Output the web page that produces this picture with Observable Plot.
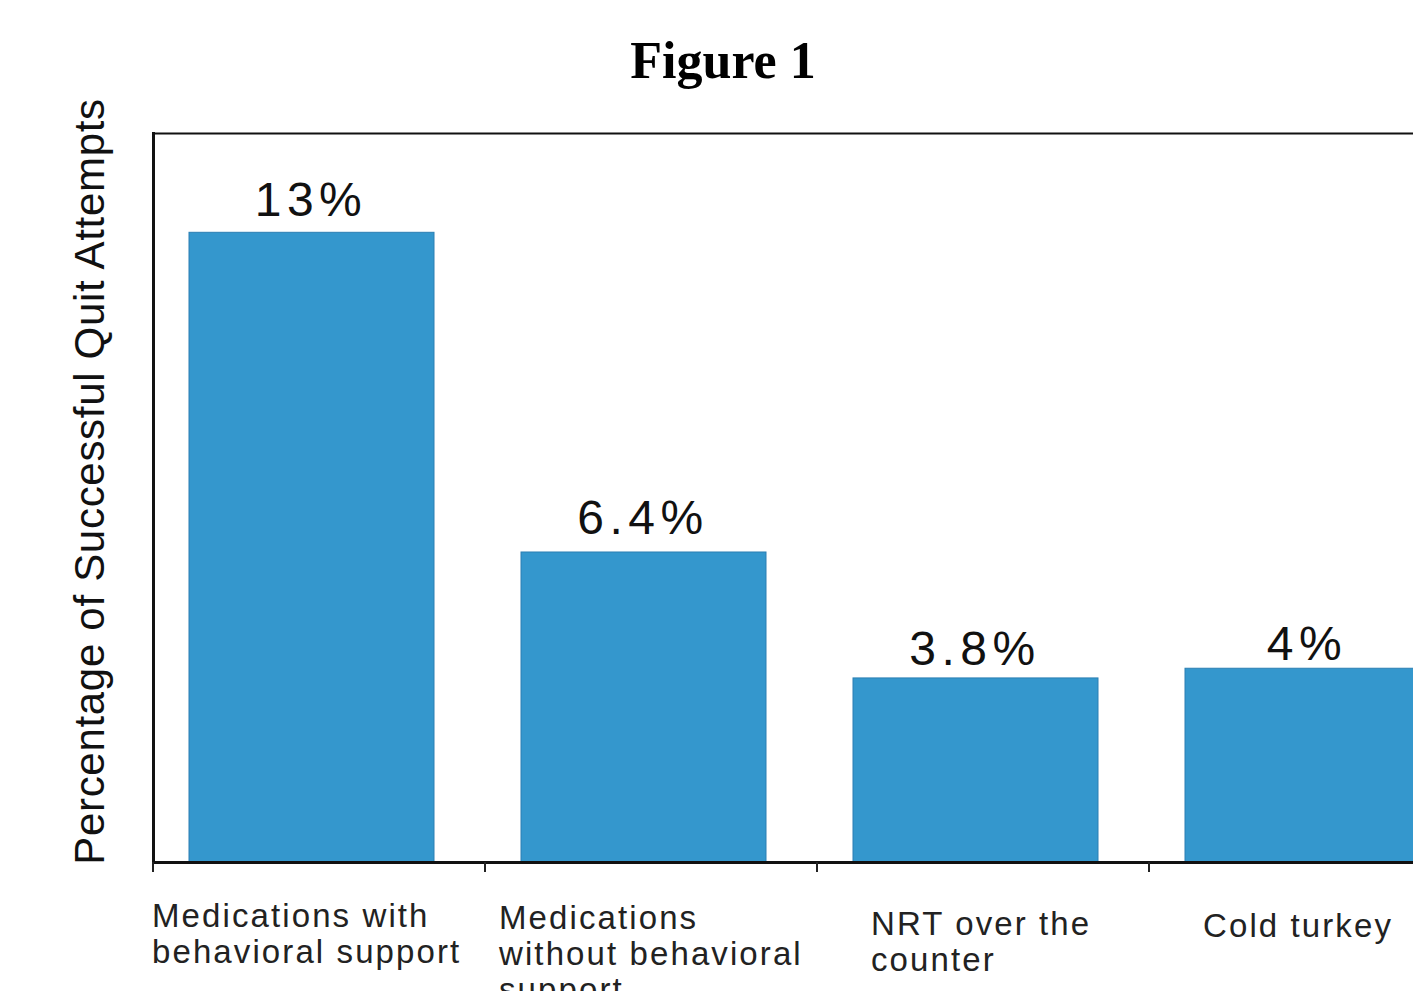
<!DOCTYPE html>
<html>
<head>
<meta charset="utf-8">
<script src="https://cdn.jsdelivr.net/npm/d3@7"></script>
<script src="https://cdn.jsdelivr.net/npm/@observablehq/plot@0.6"></script>
<style>
  html, body { margin: 0; padding: 0; background: #fff; overflow: hidden; }
  #title { position: relative; height: 100px; font-family: "Liberation Serif", "Times New Roman", serif; font-weight: bold; font-size: 52px; line-height: 52px; color: #000; }
  #title span { position: absolute; left: 723px; top: 35px; transform: translateX(-50%); white-space: nowrap; }
  .vlabel text { letter-spacing: 5.5px; }
  .xlabel text { letter-spacing: 2.1px; }
  .ylabel text { letter-spacing: 0.7px; }
</style>
</head>
<body>
<div id="title"><span>Figure 1</span></div>
<div id="chart"></div>
<script>
// ---- data ----
const categories = [
  "Medications with\nbehavioral support",
  "Medications\nwithout behavioral\nsupport",
  "NRT over the\ncounter",
  "Cold turkey"
];
const values = [13, 6.4, 3.8, 4];
const yLabel = "Percentage of Successful Quit Attempts";
const yMax = 15.05;

// ---- layout (not data) ----
const tickLabelNudge = [[-167, 39], [-152, 41], [-112, 47], [-112, 49]];
const valueLabelNudge = [-17, -18, -13, -9];

const data = categories.map((c, i) => ({category: c, value: values[i]}));

const chart = Plot.plot({
  width: 1413,
  height: 891,
  marginTop: 33,
  marginBottom: 129,
  marginLeft: 153,
  marginRight: 0,
  style: {fontFamily: '"Liberation Sans", Arial, sans-serif', background: "#fff"},
  x: {domain: categories, range: [153, 1481], paddingInner: 0.262, paddingOuter: 0.131, label: null},
  y: {domain: [0, yMax], axis: null, label: null},
  marks: [
    Plot.barY(data, {x: "category", y: "value", fill: "#3497cd", stroke: "#2b7fb3", strokeWidth: 1, dx: -7}),
    ...data.map((d, i) => Plot.text([d], {
      x: "category", y: "value", text: d => `${d.value}%`, dx: -8, dy: valueLabelNudge[i],
      lineAnchor: "bottom", fontSize: 48, fill: "#111", className: "vlabel"
    })),
    Plot.frame({anchor: "left", stroke: "#111", strokeWidth: 3}),
    Plot.frame({anchor: "top", stroke: "#111", strokeWidth: 2}),
    Plot.ruleY([0], {stroke: "#111", strokeWidth: 3}),
    Plot.axisX({tickSize: 10, tickFormat: () => "", dx: -166, stroke: "#222", strokeWidth: 2, label: null}),
    ...categories.map((c, i) => Plot.text([c], {
      x: d => d, text: d => d, frameAnchor: "bottom", textAnchor: "start", lineAnchor: "top",
      lineHeight: 1.09, fontSize: 33, fill: "#222",
      dx: tickLabelNudge[i][0], dy: tickLabelNudge[i][1], className: "xlabel"
    })),
    Plot.text([yLabel], {text: d => d, frameAnchor: "left", textAnchor: "middle", lineAnchor: "bottom", rotate: -90,
      dx: -50, dy: -16.5, fontSize: 42, fill: "#111", className: "ylabel"})
  ]
});
document.getElementById("chart").appendChild(chart);
</script>
</body>
</html>
